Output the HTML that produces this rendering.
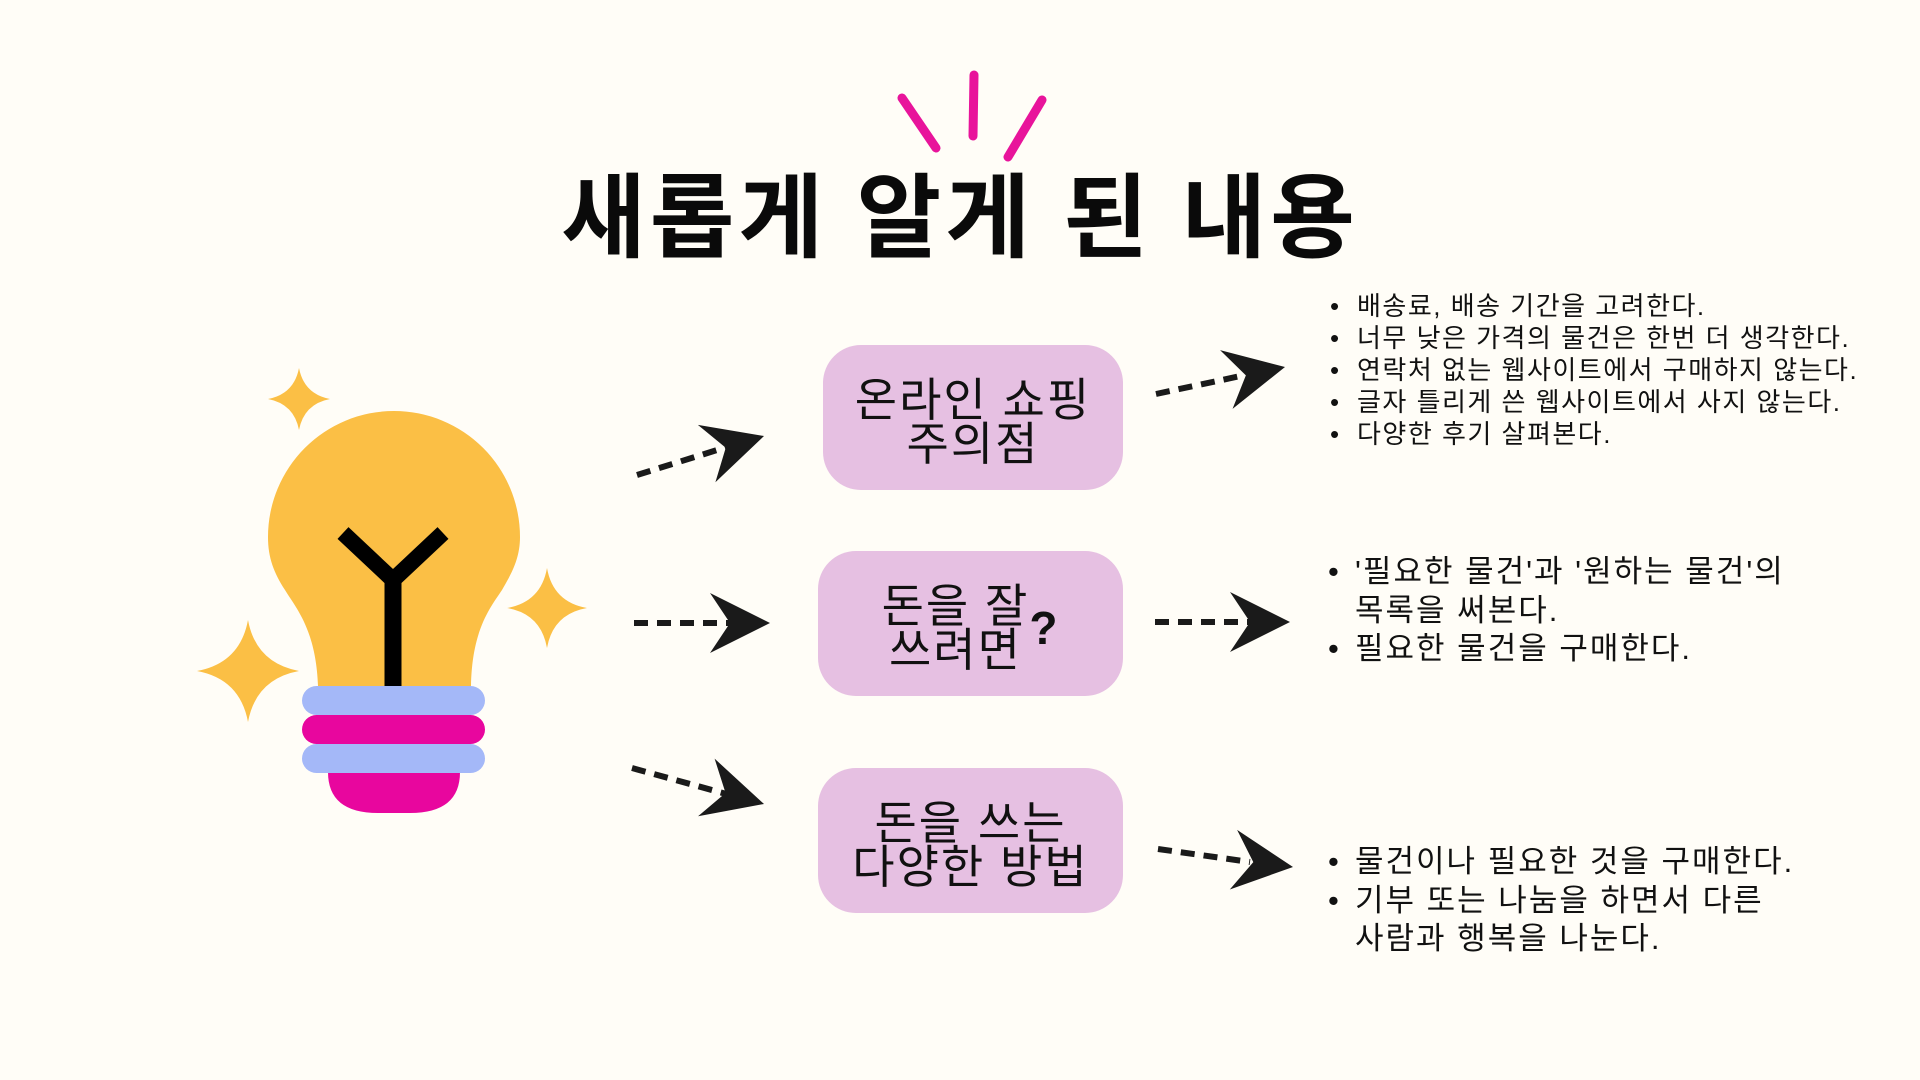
<!DOCTYPE html>
<html><head><meta charset="utf-8"><style>
html,body{margin:0;padding:0;background:#fffdf7;}
body{width:1920px;height:1080px;position:relative;overflow:hidden;font-family:"Liberation Sans","Noto Sans CJK KR",sans-serif;color:#111;}
.title{position:absolute;left:0;width:1920px;top:164px;text-align:center;font-size:92px;font-weight:bold;letter-spacing:4px;line-height:110px;color:#0a0a0a;}
.box{position:absolute;background:#e6c0e2;border-radius:38px;display:flex;align-items:center;justify-content:center;text-align:center;font-size:46px;letter-spacing:2px;line-height:44px;color:#111;box-sizing:border-box;padding-top:8px;}
.list{position:absolute;margin:0;padding:0;list-style:none;}
.list li{position:relative;padding-left:27px;}
.list li:before{content:"•";position:absolute;left:0;letter-spacing:0;}
</style></head><body>
<svg width="1920" height="1080" style="position:absolute;left:0;top:0">
<g stroke="#e8149b" stroke-width="9" stroke-linecap="round" fill="none">
<line x1="902" y1="98" x2="936" y2="148"/>
<line x1="974" y1="75" x2="973" y2="136"/>
<line x1="1042" y1="100" x2="1008" y2="157"/>
</g>
<g fill="#fbbf45">
<path d="M299,368 Q304,394 330,399 Q304,404 299,430 Q294,404 268,399 Q294,394 299,368Z"/>
<path d="M248,620 Q256,663 299,671 Q256,679 248,722 Q240,679 197,671 Q240,663 248,620Z"/>
<path d="M547,568 Q553,602 587,608 Q553,614 547,648 Q541,614 507,608 Q541,602 547,568Z"/>
<path d="M318,686 C316,630 296,608 285,590 C274,573 268,558 268,537 A126,126 0 0 1 520,537 C520,558 512,573 502,590 C490,608 472,630 471,686Z"/>
</g>
<polyline points="343,533 393,580 443,533" fill="none" stroke="#000" stroke-width="16"/>
<line x1="393" y1="578" x2="393" y2="688" stroke="#000" stroke-width="17"/>
<path d="M328,772 L460,772 Q460,813 410,813 L378,813 Q328,813 328,772Z" fill="#e8069e"/>
<rect x="302" y="686" width="183" height="29" rx="14.5" fill="#a4b8f8"/>
<rect x="302" y="715" width="183" height="29" rx="14.5" fill="#e8069e"/>
<rect x="302" y="744" width="183" height="29" rx="14.5" fill="#a4b8f8"/>
<defs><path id="ah" d="M0,0 L-60,-30 L-40,0 L-60,30Z" fill="#1a1a1a"/></defs>
<g stroke="#1a1a1a" stroke-width="6" stroke-dasharray="14,9" fill="none">
<line x1="637" y1="475" x2="730" y2="446"/>
<line x1="634" y1="623" x2="730" y2="623"/>
<line x1="632" y1="768" x2="730" y2="795"/>
<line x1="1156" y1="394" x2="1250" y2="374"/>
<line x1="1155" y1="622" x2="1250" y2="622"/>
<line x1="1158" y1="849" x2="1250" y2="862"/>
</g>
<use href="#ah" transform="translate(764,436) rotate(-17)"/>
<use href="#ah" transform="translate(770,623)"/>
<use href="#ah" transform="translate(764,804) rotate(16)"/>
<use href="#ah" transform="translate(1285,367) rotate(-12)"/>
<use href="#ah" transform="translate(1290,622)"/>
<use href="#ah" transform="translate(1293,867) rotate(7)"/>
</svg>
<div class="title">새롭게 알게 된 내용</div>
<div class="box" style="left:823px;top:345px;width:300px;height:145px;">온라인 쇼핑<br>주의점</div>
<div class="box" style="left:818px;top:551px;width:305px;height:145px;">돈을 잘<br>쓰려면<b>?</b></div>
<div class="box" style="left:818px;top:768px;width:305px;height:145px;">돈을 쓰는<br>다양한 방법</div>
<ul class="list" style="left:1330px;top:290px;font-size:26px;letter-spacing:1.5px;line-height:32px;">
<li>배송료, 배송 기간을 고려한다.</li>
<li>너무 낮은 가격의 물건은 한번 더 생각한다.</li>
<li>연락처 없는 웹사이트에서 구매하지 않는다.</li>
<li>글자 틀리게 쓴 웹사이트에서 사지 않는다.</li>
<li>다양한 후기 살펴본다.</li>
</ul>
<ul class="list" style="left:1328px;top:553px;font-size:31px;letter-spacing:2px;line-height:38.5px;">
<li>'필요한 물건'과 '원하는 물건'의<br>목록을 써본다.</li>
<li>필요한 물건을 구매한다.</li>
</ul>
<ul class="list" style="left:1328px;top:843px;font-size:31px;letter-spacing:2px;line-height:38.5px;">
<li>물건이나 필요한 것을 구매한다.</li>
<li>기부 또는 나눔을 하면서 다른<br>사람과 행복을 나눈다.</li>
</ul>
</body></html>
